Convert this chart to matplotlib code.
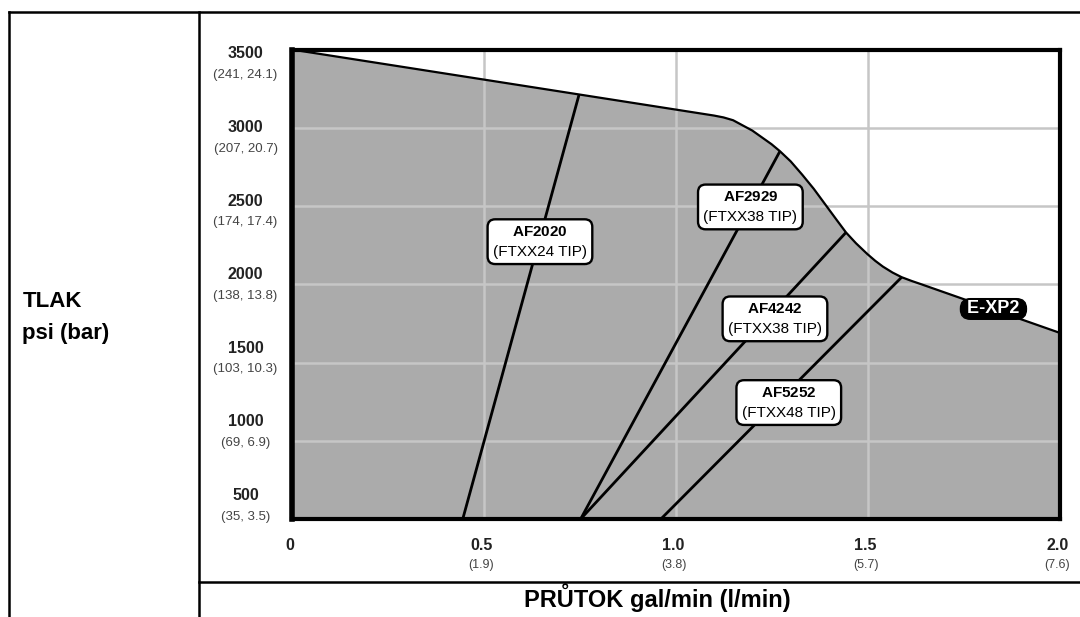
import matplotlib
matplotlib.use('Agg')
import matplotlib.pyplot as plt
import matplotlib.transforms as mtransforms
from matplotlib.lines import Line2D

plt.rcParams['font.family'] = ['Liberation Sans', 'DejaVu Sans']
plt.rcParams['mathtext.fontset'] = 'custom'
plt.rcParams['mathtext.rm'] = 'Liberation Sans'
plt.rcParams['mathtext.bf'] = 'Liberation Sans:bold'

# E-XP2 operating envelope, gal/min vs psi
env_flow = [0.0, 1.10, 1.125, 1.15, 1.20, 1.25, 1.272, 1.30, 1.33, 1.36, 1.39, 1.42,
            1.444, 1.47, 1.50, 1.52, 1.54, 1.565, 1.589, 1.615, 1.64, 2.0]
env_psi = [3500, 3078, 3066, 3048, 2982, 2895, 2850, 2785, 2700, 2610, 2510, 2410,
           2331, 2262, 2192, 2150, 2113, 2075, 2045, 2021, 2000, 1690]

# gun/tip lines: start on the 500 psi floor, end on the envelope
nozzle_names = ['AF2020', 'AF2929', 'AF4242', 'AF5252']
nozzle_tips = ['(FTXX24 TIP)', '(FTXX38 TIP)', '(FTXX38 TIP)', '(FTXX48 TIP)']
nozzle_flow = [[0.446, 0.749], [0.753, 1.272], [0.753, 1.444], [0.962, 1.589]]
nozzle_psi = [[500, 3213], [500, 2850], [500, 2331], [500, 2045]]
label_flow = [0.647, 1.195, 1.259, 1.295]
label_psi = [2272, 2494, 1779, 1244]
pump_label = 'E-XP2'
pump_flow = 1.828
pump_psi = 1842

psi_ticks = [500, 1000, 1500, 2000, 2500, 3000, 3500]
psi_sub = ['(35, 3.5)', '(69, 6.9)', '(103, 10.3)', '(138, 13.8)',
           '(174, 17.4)', '(207, 20.7)', '(241, 24.1)']
flow_ticks = [0, 0.5, 1.0, 1.5, 2.0]
flow_labels = ['0', '0.5', '1.0', '1.5', '2.0']
flow_sub = ['', '(1.9)', '(3.8)', '(5.7)', '(7.6)']

W, H = 1080, 617
fig = plt.figure(figsize=(W / 100, H / 100), dpi=100)
ax = fig.add_axes([291.5 / W, 1 - 519 / H, 768 / W, 469.5 / H])

ax.fill_between(env_flow, 500, env_psi, color='#ababab', lw=0, zorder=1)
ax.plot(env_flow, env_psi, color='black', lw=1.6, zorder=4, solid_joinstyle='round')

for fl, ps in zip(nozzle_flow, nozzle_psi):
    ax.plot(fl, ps, color='black', lw=2.0, zorder=4, solid_capstyle='butt')

for name, tip, x, y in zip(nozzle_names, nozzle_tips, label_flow, label_psi):
    ax.text(x, y, r'$\mathbf{' + name + '}$' + '\n' + tip, ha='center', va='center',
            multialignment='center', fontsize=11, linespacing=1.55, zorder=6,
            bbox=dict(boxstyle='round,pad=0.35,rounding_size=0.5', fc='white',
                      ec='black', lw=1.7))

ax.text(pump_flow, pump_psi, ' ' + pump_label + ' ', ha='center', va='center',
        fontsize=13, fontweight='bold', color='white', zorder=6,
        bbox=dict(boxstyle='round,pad=0.1,rounding_size=0.55', fc='black',
                  ec='black', lw=1))

ax.set_xlim(0, 2)
ax.set_ylim(500, 3500)
ax.set_xticks(flow_ticks)
ax.set_yticks(psi_ticks)
ax.tick_params(length=0, labelleft=False, labelbottom=False)
ax.grid(True, color='#c6c6c6', lw=1.8, zorder=2)
ax.set_axisbelow(False)
for side, sp in ax.spines.items():
    sp.set_linewidth(4 if side == 'left' else 3)
    sp.set_zorder(8)
    sp.set_capstyle('projecting')

# y labels: the stacked labels are spaced a little tighter than the grid
blend_y = mtransforms.blended_transform_factory(ax.transAxes, ax.transData)
for p, sub in zip(psi_ticks, psi_sub):
    dy = 4.5 - (3500 - p) * 0.0093
    ax.annotate(str(p), xy=(0, p), xycoords=blend_y, xytext=(-46, -dy),
                textcoords='offset pixels', ha='center', va='center',
                fontsize=11.5, fontweight='bold', color='#222222', annotation_clip=False)
    ax.annotate(sub, xy=(0, p), xycoords=blend_y, xytext=(-46, -dy - 21),
                textcoords='offset pixels', ha='center', va='center',
                fontsize=9.5, color='#444444', annotation_clip=False)

blend_x = mtransforms.blended_transform_factory(ax.transData, ax.transAxes)
for f, lab, sub in zip(flow_ticks, flow_labels, flow_sub):
    ax.annotate(lab, xy=(f, 0), xycoords=blend_x, xytext=(-2, -26),
                textcoords='offset pixels', ha='center', va='center',
                fontsize=11.5, fontweight='bold', color='#222222', annotation_clip=False)
    if sub:
        ax.annotate(sub, xy=(f, 0), xycoords=blend_x, xytext=(-2, -46),
                    textcoords='offset pixels', ha='center', va='center',
                    fontsize=9, color='#444444', annotation_clip=False)

# table-like frame around the chart
def frame_line(x0, y0, x1, y1):
    fig.add_artist(Line2D([x0 / W, x1 / W], [1 - y0 / H, 1 - y1 / H],
                          transform=fig.transFigure, color='black', lw=1.8,
                          solid_capstyle='projecting'))

frame_line(9, 12, W, 12)
frame_line(9, 12, 9, H)
frame_line(199, 12, 199, H)
frame_line(199, 582, W, 582)

fig.text(22.5 / W, 1 - 307.3 / H, 'TLAK', ha='left', va='baseline',
         fontsize=16, fontweight='bold')
fig.text(22.5 / W, 1 - 338.5 / H, 'psi (bar)', ha='left', va='baseline',
         fontsize=16, fontweight='bold')
fig.text(657.5 / W, 1 - 606.7 / H, 'PRŮTOK gal/min (l/min)', ha='center',
         va='baseline', fontsize=17, fontweight='bold')

fig.savefig('out.png', dpi=100)
